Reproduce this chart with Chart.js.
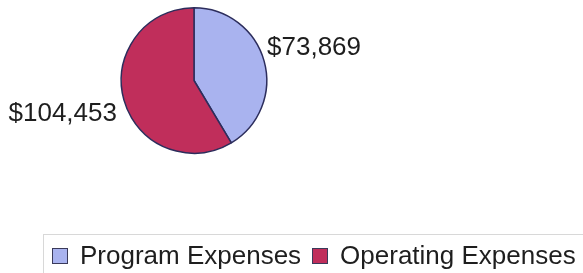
<!DOCTYPE html>
<html>
<head>
<meta charset="utf-8">
<script src="https://cdn.jsdelivr.net/npm/chart.js@4.4.1/dist/chart.umd.min.js"></script>
<style>
  html, body { margin: 0; padding: 0; background: #fff; }
  #wrap { position: relative; width: 583px; height: 273px; overflow: hidden; }
  #legend {
    position: absolute; left: 43px; top: 234px; width: 560px; height: 50px;
    border-top: 1px solid #d8d8d8; border-left: 1px solid #d8d8d8;
    display: flex; align-items: center; padding-left: 8px; box-sizing: border-box;
    font: 26px "Liberation Sans", Arial, sans-serif; color: #1e1e1e;
    white-space: nowrap; padding-bottom: 8px;
  }
  .sw { width: 14px; height: 14px; border: 1px solid #3a3a5a; margin-right: 12px; flex: none; }
  .item { display: flex; align-items: center; margin-right: 11px; }
</style>
</head>
<body>
<div id="wrap">
  <canvas id="c" width="583" height="273"></canvas>
  <div id="legend"></div>
</div>
<script>
const categories = ["Program Expenses", "Operating Expenses"];
const values = [73869, 104453];
const valueLabels = ["$73,869", "$104,453"];
const colors = ["#a9b3ef", "#c02e5b"];

// labels outside the pie, anchored on each slice edge
const outsideLabels = {
  id: "outsideLabels",
  afterDatasetsDraw(chart) {
    const ctx = chart.ctx;
    const meta = chart.getDatasetMeta(0);
    ctx.save();
    ctx.font = '26px "Liberation Sans", Arial, sans-serif';
    ctx.fillStyle = "#1e1e1e";
    meta.data.forEach((arc, i) => {
      const mid = (arc.startAngle + arc.endAngle) / 2;
      const r = arc.outerRadius + 2;
      const x = arc.x + Math.cos(mid) * r;
      const y = arc.y + Math.sin(mid) * r;
      ctx.textAlign = Math.cos(mid) >= 0 ? "left" : "right";
      ctx.textBaseline = Math.sin(mid) < 0 ? "bottom" : "top";
      ctx.fillText(valueLabels[i], x + (Math.cos(mid) >= 0 ? 1 : -5), y);
    });
    ctx.restore();
  }
};

new Chart(document.getElementById("c").getContext("2d"), {
  type: "pie",
  data: {
    labels: categories,
    datasets: [{
      data: values,
      backgroundColor: colors,
      borderColor: "#2c2d5c",
      borderWidth: 1.5
    }]
  },
  options: {
    responsive: false,
    animation: false,
    layout: { padding: { left: 0, right: 195, top: 7, bottom: 119 } },
    plugins: {
      legend: { display: false },
      tooltip: { enabled: false }
    }
  },
  plugins: [outsideLabels]
});

const legend = document.getElementById("legend");
categories.forEach((name, i) => {
  const item = document.createElement("div");
  item.className = "item";
  const sw = document.createElement("span");
  sw.className = "sw";
  sw.style.background = colors[i];
  const txt = document.createElement("span");
  txt.textContent = name;
  item.appendChild(sw);
  item.appendChild(txt);
  legend.appendChild(item);
});
</script>
</body>
</html>
